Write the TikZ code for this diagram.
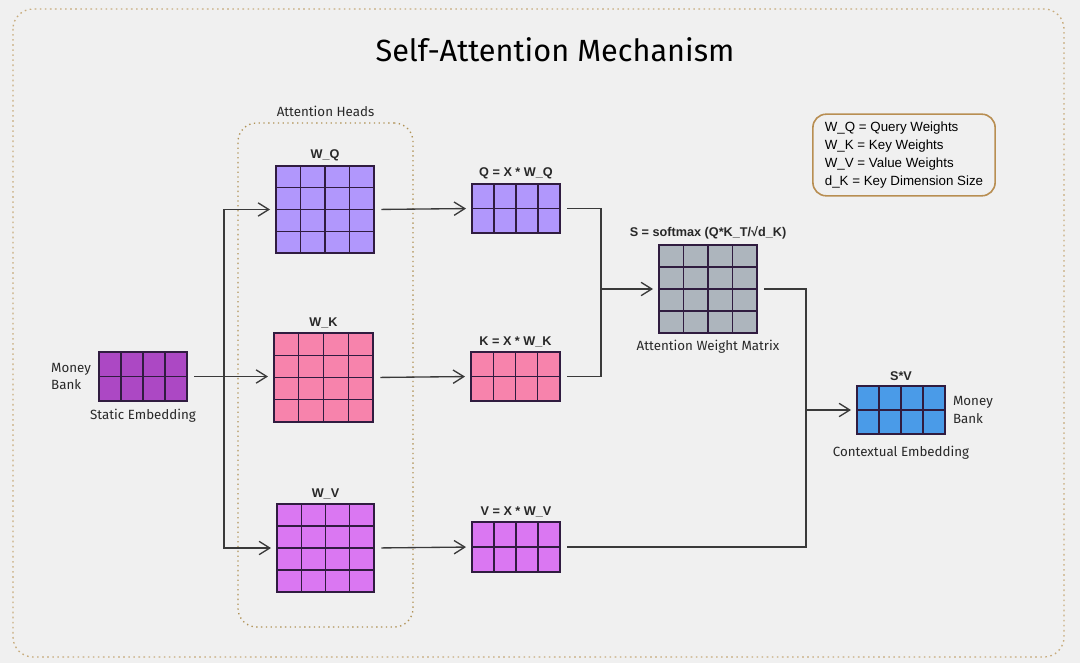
\documentclass[tikz,border=0pt]{standalone}
\usepackage{fontspec}
\setmainfont{Liberation Sans}
\newfontfamily\handfont{Fira Sans}
\usetikzlibrary{arrows.meta,positioning,fit}
\definecolor{canvas}{RGB}{240,240,240}
\definecolor{framebrown}{RGB}{200,172,126}
\definecolor{headsbrown}{RGB}{176,146,86}
\definecolor{legendbrown}{RGB}{184,142,82}
\definecolor{cellline}{RGB}{48,28,64}
\definecolor{wire}{RGB}{58,58,58}
\definecolor{inkgray}{RGB}{40,40,40}
\definecolor{queryviolet}{RGB}{177,151,252}
\definecolor{keypink}{RGB}{247,131,172}
\definecolor{valuemagenta}{RGB}{218,119,242}
\definecolor{embedpurple}{RGB}{172,72,196}
\definecolor{scoregray}{RGB}{173,181,189}
\definecolor{outblue}{RGB}{74,155,232}
\newcommand{\cells}[8]{%
  \node[fit={(#2,#3) (#4,#5)},inner sep=0pt,fill=#8,draw=cellline,line width=1pt] (#1) {};
  \pgfmathtruncatemacro{\lastcol}{#6-1}
  \pgfmathtruncatemacro{\lastrow}{#7-1}
  \foreach \c in {1,...,\lastcol}{
    \draw[cellline,line width=1pt] ({#2+\c*(#4-#2)/#6},#3) -- ({#2+\c*(#4-#2)/#6},#5);
  }
  \foreach \r in {1,...,\lastrow}{
    \draw[cellline,line width=1pt] (#2,{#3+\r*(#5-#3)/#7}) -- (#4,{#3+\r*(#5-#3)/#7});
  }%
}

\begin{document}
\begin{tikzpicture}[x=0.75pt,y=-0.75pt,
  flow/.style={draw=wire,line width=1pt,-{Straight Barb[length=8pt,width=10pt,line width=1pt]},shorten <=5pt,shorten >=4pt},
  link/.style={draw=wire,line width=1pt,shorten <=5pt,shorten >=5pt},
  tag/.style={font=\bfseries\fontsize{9.5}{11}\selectfont,text=inkgray},
  hand/.style={font=\handfont\fontsize{10}{13}\selectfont,text=inkgray},
  legend/.style={draw=legendbrown,line width=1.2pt,rounded corners=10pt,align=left,
    inner xsep=9pt,inner ysep=6pt,font=\fontsize{10}{13.3}\selectfont,text=black}]
  \useasboundingbox (0,0) rectangle (1080,663);
  \fill[canvas] (0,0) rectangle (1080,663);
  \draw[framebrown,line width=1pt,dash pattern=on 1.2pt off 2.6pt,rounded corners=15pt] (13,9) rectangle (1064,657);

  \node[hand,font=\handfont\fontsize{23}{28}\selectfont,text=black] (title) at (555,50) {Self-Attention Mechanism};
  \node[legend] (key) at (904,155) {W\_Q = Query Weights\\W\_K = Key Weights\\W\_V = Value Weights\\d\_K = Key Dimension Size};

  % attention heads
  \node[fit={(238,123) (413,627)},inner sep=0pt,draw=headsbrown,line width=1pt,
    dash pattern=on 1pt off 2.6pt,rounded corners=14pt] (heads) {};
  \node[hand,above=1pt of heads] (headsname) {Attention Heads};

  \cells{x}{99}{352}{187}{401}{4}{2}{embedpurple}
  \cells{wq}{276}{166}{374}{253}{4}{4}{queryviolet}
  \cells{wk}{274}{333}{373}{422}{4}{4}{keypink}
  \cells{wv}{277}{504}{374}{592}{4}{4}{valuemagenta}
  \cells{q}{472}{184}{560}{233}{4}{2}{queryviolet}
  \cells{k}{471}{352}{560}{401}{4}{2}{keypink}
  \cells{v}{472}{522}{560}{572}{4}{2}{valuemagenta}
  \cells{s}{659}{245}{757}{333}{4}{4}{scoregray}
  \cells{sv}{857}{386}{945}{434}{4}{2}{outblue}

  \node[hand,left=2pt of x,align=left] (xword) {Money\\Bank};
  \node[hand,below=2pt of x] (xdesc) {Static Embedding};
  \node[tag,above=0pt of wq] (wqname) {W\_Q};
  \node[tag,above=0pt of wk] (wkname) {W\_K};
  \node[tag,above=0pt of wv] (wvname) {W\_V};
  \node[tag,above=0pt of q] (qname) {Q = X * W\_Q};
  \node[tag,above=0pt of k] (kname) {K = X * W\_K};
  \node[tag,above=0pt of v] (vname) {V = X * W\_V};
  \node[tag,above=0pt of s] (sname) {S = softmax (Q*K\_T/√d\_K)};
  \node[hand,below=1pt of s] (sdesc) {Attention Weight Matrix};
  \node[tag,above=0pt of sv] (svname) {S*V};
  \node[hand,right=2pt of sv,align=left] (svword) {Money\\Bank};
  \node[hand,below=5pt of sv] (svdesc) {Contextual Embedding};

  % connectors
  \coordinate (fork) at (224,0);
  \coordinate (mergeqk) at (601,0);
  \coordinate (mergesv) at (806,0);
  \draw[flow] (x.east) -- (x.east -| wk.west);
  \draw[flow,shorten <=0pt] (fork |- x.east) |- (wq.west);
  \draw[flow,shorten <=0pt] (fork |- x.east) |- (wv.west);
  \draw[flow] (wq.east) -- (q.west);
  \draw[flow] (wk.east) -- (k.west);
  \draw[flow] (wv.east) -- (v.west);
  \draw[link] (q.east) -| (mergeqk |- k.east) -- (k.east);
  \draw[flow,shorten <=0pt] (mergeqk |- s.west) -- (s.west);
  \draw[link] (s.east) -| (mergesv |- v.east) -- (v.east);
  \draw[flow,shorten <=0pt] (mergesv |- sv.west) -- (sv.west);
\end{tikzpicture}
\end{document}
